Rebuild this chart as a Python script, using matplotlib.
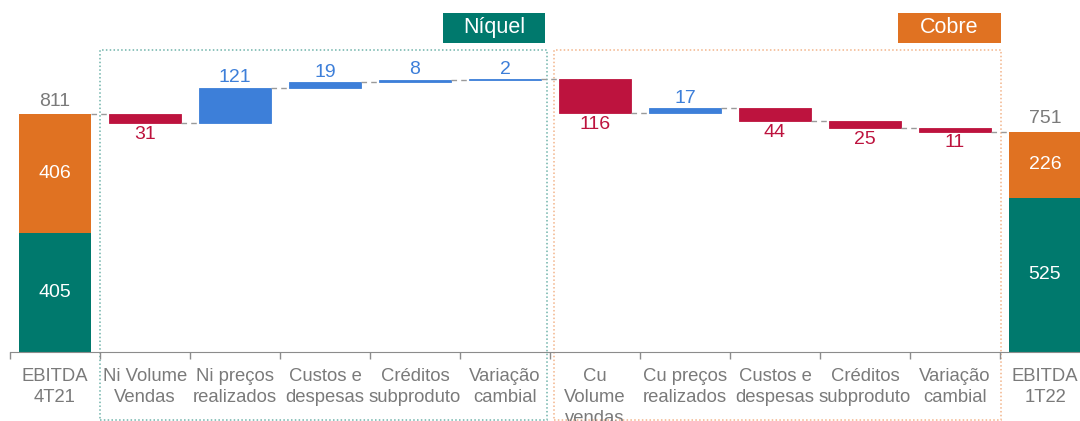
import numpy as np
import matplotlib.pyplot as plt
from matplotlib.patches import Rectangle

plt.rcParams['font.family'] = ['Liberation Sans', 'DejaVu Sans']

# data
categories = ['EBITDA\n4T21', 'Ni Volume\nVendas', 'Ni preços\nrealizados',
              'Custos e\ndespesas', 'Créditos\nsubproduto', 'Variação\ncambial',
              'Cu\nVolume\nvendas', 'Cu preços\nrealizados', 'Custos e\ndespesas',
              'Créditos\nsubproduto', 'Variação\ncambial', 'EBITDA\n1T22']
start_split = [405, 406]      # níquel, cobre  (EBITDA 4T21)
end_split = [525, 226]        # níquel, cobre  (EBITDA 1T22)
deltas = [-31, 121, 19, 8, 2, -116, 17, -44, -25, -11]
groups = ['Níquel', 'Cobre']

TEAL = '#00796d'
ORANGE = '#e07222'
RED = '#bd133e'
BLUE = '#3d7fd9'
GREY = '#7a7a7a'
VAL_FS = 14

fig = plt.figure(figsize=(10.8, 4.21), dpi=100)
ax = fig.add_axes([10 / 1080, 69 / 421, 1.0, 293.5 / 421])
ax.set_xlim(-0.5, 11.5)
ax.set_ylim(0, 1000)

w = 0.8
x = np.arange(len(categories))


def stacked_total(i, split):
    ax.bar(i, split[0], w, color=TEAL)
    ax.bar(i, split[1], w, bottom=split[0], color=ORANGE)
    ax.text(i, split[0] / 2, str(split[0]), ha='center', va='center',
            color='white', fontsize=VAL_FS)
    ax.text(i, split[0] + split[1] / 2, str(split[1]), ha='center', va='center',
            color='white', fontsize=VAL_FS)
    ax.annotate(str(sum(split)), (i, sum(split)), xytext=(0, 3),
                textcoords='offset points', ha='center', va='bottom',
                color=GREY, fontsize=VAL_FS)


stacked_total(0, start_split)
levels = [sum(start_split)]
level = sum(start_split)
for k, d in enumerate(deltas):
    i = k + 1
    new = level + d
    col = BLUE if d > 0 else RED
    ax.bar(i, abs(d), w, bottom=min(level, new), color=col,
           edgecolor=col, linewidth=0.6)
    if d > 0:
        ax.annotate(str(abs(d)), (i, new), xytext=(0, 1),
                    textcoords='offset points', ha='center', va='bottom',
                    color=BLUE, fontsize=VAL_FS)
    else:
        ax.annotate(str(abs(d)), (i, new), xytext=(0, -2),
                    textcoords='offset points', ha='center', va='top',
                    color=RED, fontsize=VAL_FS)
    level = new
    levels.append(level)
stacked_total(len(categories) - 1, end_split)

# connectors
for i, lv in enumerate(levels):
    ax.plot([i + w / 2, i + 1 - w / 2], [lv, lv], color='#9a9a9a',
            lw=1, ls=(0, (4, 3)))

# axis styling
for s in ['top', 'left', 'right']:
    ax.spines[s].set_visible(False)
ax.spines['bottom'].set_color('#8c8c8c')
ax.set_yticks([])
ax.set_xticks(x)
ax.set_xticklabels(categories, color=GREY, fontsize=13.3, linespacing=1.3)
ax.tick_params(axis='x', which='major', length=0, pad=11.5)
ax.set_xticks(np.arange(-0.5, 12, 1), minor=True)
ax.tick_params(axis='x', which='minor', length=5, color='#8c8c8c', width=1)

# group boxes and tags
box_x = [(0.5, 5.467), (5.544, 10.511)]
tag_x = [(4.311, 5.444), (9.367, 10.511)]
box_y = (-232, 1029)
tag_y = (1053, 1155)
box_cols = ['#6fb3aa', '#f2b48a']
tag_cols = [TEAL, ORANGE]
for g, (x0, x1), (t0, t1), bc, tc in zip(groups, box_x, tag_x, box_cols, tag_cols):
    ax.add_patch(Rectangle((x0, box_y[0]), x1 - x0, box_y[1] - box_y[0],
                           fill=False, edgecolor=bc, lw=1.1, ls=(0, (1, 1.5)),
                           clip_on=False))
    ax.add_patch(Rectangle((t0, tag_y[0]), t1 - t0, tag_y[1] - tag_y[0],
                           facecolor=tc, edgecolor='none', clip_on=False))
    ax.text((t0 + t1) / 2, (tag_y[0] + tag_y[1]) / 2, g, ha='center',
            va='center', color='white', fontsize=15.5)

fig.savefig('out.png', dpi=100)
